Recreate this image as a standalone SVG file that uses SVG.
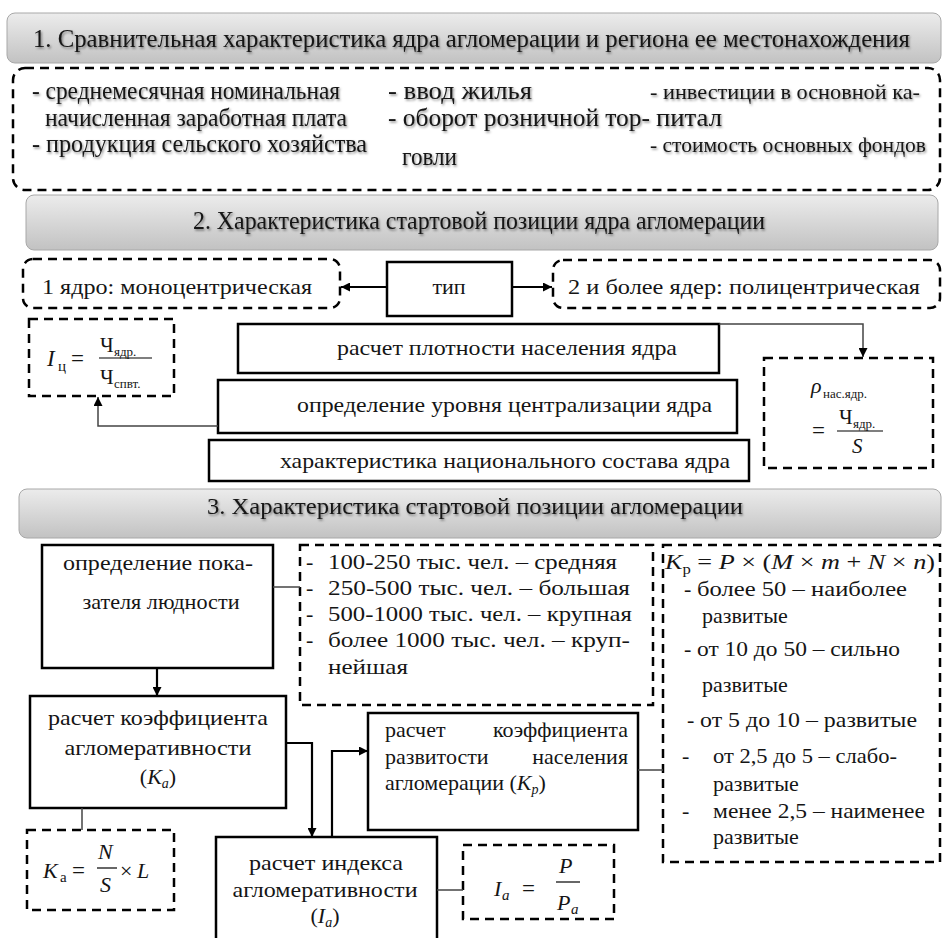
<svg xmlns="http://www.w3.org/2000/svg" width="945" height="938" viewBox="0 0 945 938" font-family="'Liberation Serif', 'DejaVu Serif', serif">
<defs>
<linearGradient id="bg" x1="0" y1="0" x2="0" y2="1">
<stop offset="0" stop-color="#ececec"/>
<stop offset="1" stop-color="#c2c2c2"/>
</linearGradient>
<filter id="sh" x="-5%" y="-40%" width="110%" height="180%">
<feDropShadow dx="1.2" dy="1.6" stdDeviation="1.1" flood-color="#000" flood-opacity="0.45"/>
</filter>
<marker id="ah" viewBox="0 0 10 10" refX="10" refY="5" markerWidth="9" markerHeight="9" markerUnits="userSpaceOnUse" orient="auto">
<path d="M0,0 L10,5 L0,10 z" fill="#000"/>
</marker>
</defs>
<style>
text{font-family:'Liberation Serif','DejaVu Serif',serif;fill:#151515;}
.t{font-size:22px;}
.h{font-size:25px;filter:url(#sh);}
.h2{font-size:22px;filter:url(#sh);}
.h3{font-size:23px;filter:url(#sh);}
.c{text-anchor:middle;}
.e{text-anchor:end;}
.ban{fill:url(#bg);stroke:#a8a8a8;stroke-width:1;}
.box{fill:#fff;stroke:#000;stroke-width:2.5;}
.dbox{fill:#fff;stroke:#000;stroke-width:2.5;stroke-dasharray:9 6;}
.i{font-style:italic;}
.sub{font-size:13px;}
.thin{fill:none;stroke:#444;stroke-width:1.5;}
.thick{fill:none;stroke:#000;stroke-width:2.2;}
</style>

<g id="banner1">
<rect class="ban" x="7" y="13" width="934" height="50" rx="8"/>
<text class="h" x="33" y="47" textLength="877" lengthAdjust="spacingAndGlyphs">1. Сравнительная характеристика ядра агломерации и региона ее местонахождения</text>
</g>

<g id="indicators">
<rect class="dbox" x="13" y="68" width="927" height="122" rx="12"/>
<text class="h" x="32" y="99" textLength="308" lengthAdjust="spacingAndGlyphs">- среднемесячная номинальная</text>
<text class="h" x="45" y="126" textLength="302" lengthAdjust="spacingAndGlyphs">начисленная заработная плата</text>
<text class="h" x="32" y="152" textLength="335" lengthAdjust="spacingAndGlyphs">- продукция сельского хозяйства</text>
<text class="h" x="388" y="99" textLength="144" lengthAdjust="spacingAndGlyphs">- ввод жилья</text>
<text class="h" x="388" y="126" textLength="262" lengthAdjust="spacingAndGlyphs">- оборот розничной тор-</text>
<text class="h" x="402" y="165" textLength="55" lengthAdjust="spacingAndGlyphs">говли</text>
<text class="h2" x="650" y="99" textLength="270" lengthAdjust="spacingAndGlyphs">- инвестиции в основной ка-</text>
<text class="h" x="656" y="126" textLength="66" lengthAdjust="spacingAndGlyphs">питал</text>
<text class="h2" x="650" y="152" textLength="276" lengthAdjust="spacingAndGlyphs">- стоимость основных фондов</text>
</g>

<g id="banner2">
<rect class="ban" x="26" y="195" width="912" height="55" rx="8"/>
<text class="h" x="193" y="229" textLength="572" lengthAdjust="spacingAndGlyphs">2. Характеристика стартовой позиции ядра агломерации</text>
</g>

<g id="mono">
<rect class="dbox" x="23" y="259" width="317" height="49" rx="10"/>
<text class="t" x="42" y="294" textLength="270" lengthAdjust="spacingAndGlyphs">1 ядро: моноцентрическая</text>
</g>

<g id="tip">
<rect class="box" x="387" y="262" width="125" height="54"/>
<text class="t c" x="449" y="294">тип</text>
</g>

<g id="poly">
<rect class="dbox" x="553" y="260" width="387" height="48" rx="10"/>
<text class="t" x="568" y="294" textLength="352" lengthAdjust="spacingAndGlyphs">2 и более ядер: полицентрическая</text>
</g>

<g id="formula-ic">
<rect class="dbox" x="29" y="319" width="145" height="77"/>
<text class="i" x="47" y="366" font-size="23">I</text>
<text x="58" y="371" font-size="15">ц</text>
<text x="71" y="366" font-size="23">=</text>
<line x1="99" y1="358" x2="152" y2="358" stroke="#000" stroke-width="1.2"/>
<text x="100" y="352" font-size="21">Ч</text>
<text class="sub" x="114" y="356">ядр.</text>
<text x="100" y="384" font-size="21">Ч</text>
<text class="sub" x="114" y="388">спвт.</text>
</g>

<g id="density">
<rect class="box" x="238" y="324" width="481" height="49"/>
<text class="t" x="337" y="355" textLength="340" lengthAdjust="spacingAndGlyphs">расчет плотности населения ядра</text>
</g>

<g id="centralization">
<rect class="box" x="218" y="380" width="519" height="53"/>
<text class="t" x="297" y="412" textLength="415" lengthAdjust="spacingAndGlyphs">определение уровня централизации ядра</text>
</g>

<g id="national">
<rect class="box" x="209" y="440" width="540" height="41"/>
<text class="t" x="280" y="468" textLength="450" lengthAdjust="spacingAndGlyphs">характеристика национального состава ядра</text>
</g>

<g id="formula-rho">
<rect class="dbox" x="764" y="358" width="169" height="110"/>
<text class="i" x="811" y="393" font-size="22">ρ</text>
<text class="sub" x="823" y="398">нас.ядр.</text>
<text x="812" y="438" font-size="23">=</text>
<line x1="837" y1="431" x2="883" y2="431" stroke="#000" stroke-width="1.2"/>
<text x="839" y="424" font-size="21">Ч</text>
<text class="sub" x="853" y="428">ядр.</text>
<text class="i" x="852" y="453" font-size="21">S</text>
</g>

<g id="banner3">
<rect class="ban" x="19" y="489" width="922" height="49" rx="8"/>
<text class="h3" x="207" y="514" textLength="536" lengthAdjust="spacingAndGlyphs">3. Характеристика стартовой позиции агломерации</text>
</g>

<g id="population">
<rect class="box" x="42" y="545" width="231" height="123"/>
<text class="t c" x="158" y="570" textLength="190" lengthAdjust="spacingAndGlyphs">определение пока-</text>
<text class="t c" x="161" y="609" textLength="157" lengthAdjust="spacingAndGlyphs">зателя людности</text>
</g>

<g id="size-classes">
<rect class="dbox" x="300" y="545" width="353" height="160"/>
<text class="t" x="306" y="569">-</text>
<text class="t" x="328" y="569" textLength="289" lengthAdjust="spacingAndGlyphs">100-250 тыс. чел. – средняя</text>
<text class="t" x="306" y="595">-</text>
<text class="t" x="328" y="595" textLength="302" lengthAdjust="spacingAndGlyphs">250-500 тыс. чел. – большая</text>
<text class="t" x="306" y="621">-</text>
<text class="t" x="328" y="621" textLength="304" lengthAdjust="spacingAndGlyphs">500-1000 тыс. чел. – крупная</text>
<text class="t" x="306" y="647">-</text>
<text class="t" x="328" y="647" textLength="302" lengthAdjust="spacingAndGlyphs">более 1000 тыс. чел. – круп-</text>
<text class="t" x="328" y="674" textLength="80" lengthAdjust="spacingAndGlyphs">нейшая</text>
</g>

<g id="kp-classes">
<rect class="dbox" x="663" y="545" width="277" height="317"/>
<text x="665" y="569" font-size="22" textLength="270" lengthAdjust="spacingAndGlyphs"><tspan class="i">K</tspan><tspan font-size="14" dy="5">р</tspan><tspan dy="-5"> = </tspan><tspan class="i">P</tspan> × (<tspan class="i">M</tspan> × <tspan class="i">m</tspan> + <tspan class="i">N</tspan> × <tspan class="i">n</tspan>)</text>
<text class="t" x="684" y="596">-</text>
<text class="t" x="697" y="596" textLength="210" lengthAdjust="spacingAndGlyphs">более 50 – наиболее</text>
<text class="t" x="702" y="623">развитые</text>
<text class="t" x="684" y="656">-</text>
<text class="t" x="697" y="656" textLength="203" lengthAdjust="spacingAndGlyphs">от 10 до 50 – сильно</text>
<text class="t" x="702" y="692">развитые</text>
<text class="t" x="687" y="727">-</text>
<text class="t" x="700" y="727" textLength="217" lengthAdjust="spacingAndGlyphs">от 5 до 10 – развитые</text>
<text class="t" x="682" y="763">-</text>
<text class="t" x="713" y="763" textLength="184" lengthAdjust="spacingAndGlyphs">от 2,5 до 5 – слабо-</text>
<text class="t" x="713" y="791">развитые</text>
<text class="t" x="682" y="818">-</text>
<text class="t" x="713" y="818" textLength="212" lengthAdjust="spacingAndGlyphs">менее 2,5 – наименее</text>
<text class="t" x="713" y="844">развитые</text>
</g>

<g id="ka-calc">
<rect class="box" x="30" y="696" width="256" height="112"/>
<text class="t c" x="158" y="725" textLength="220" lengthAdjust="spacingAndGlyphs">расчет коэффициента</text>
<text class="t c" x="158" y="755" textLength="187" lengthAdjust="spacingAndGlyphs">агломеративности</text>
<text class="t c" x="158" y="784">(<tspan class="i">K</tspan><tspan class="i" font-size="14" dy="4">a</tspan><tspan dy="-4">)</tspan></text>
</g>

<g id="formula-ka">
<rect class="dbox" x="27" y="830" width="147" height="80"/>
<text class="i" x="43" y="878" font-size="22">K</text>
<text x="60" y="882" font-size="15">а</text>
<text x="72" y="878" font-size="23">=</text>
<line x1="97" y1="868" x2="117" y2="868" stroke="#000" stroke-width="1.2"/>
<text class="i" x="98" y="859" font-size="22">N</text>
<text class="i" x="100" y="892" font-size="22">S</text>
<text x="120" y="878" font-size="22">×</text>
<text class="i" x="137" y="878" font-size="22">L</text>
</g>

<g id="ia-calc">
<rect class="box" x="216" y="837" width="221" height="110"/>
<text class="t c" x="326" y="870" textLength="154" lengthAdjust="spacingAndGlyphs">расчет индекса</text>
<text class="t c" x="325" y="897" textLength="185" lengthAdjust="spacingAndGlyphs">агломеративности</text>
<text class="t c" x="325" y="923">(<tspan class="i">I</tspan><tspan class="i" font-size="14" dy="4">a</tspan><tspan dy="-4">)</tspan></text>
</g>

<g id="kp-calc">
<rect class="box" x="368" y="713" width="270" height="117"/>
<text class="t" x="385" y="737">расчет</text>
<text class="t e" x="628" y="737">коэффициента</text>
<text class="t" x="385" y="764">развитости</text>
<text class="t e" x="628" y="764">населения</text>
<text class="t" x="385" y="790">агломерации (<tspan class="i">K</tspan><tspan class="i" font-size="14" dy="4">p</tspan><tspan dy="-4">)</tspan></text>
</g>

<g id="formula-ia">
<rect class="dbox" x="463" y="845" width="151" height="74"/>
<text class="i" x="494" y="896" font-size="22">I</text>
<text class="i" x="502" y="900" font-size="15">a</text>
<text x="522" y="896" font-size="23">=</text>
<line x1="556" y1="882" x2="580" y2="882" stroke="#000" stroke-width="1.2"/>
<text class="i" x="559" y="873" font-size="22">P</text>
<text class="i" x="557" y="910" font-size="22">P</text>
<text class="i" x="571" y="914" font-size="15">a</text>
</g>

<g id="connectors">
<path class="thick" d="M387,287 L341,287" marker-end="url(#ah)"/>
<path class="thick" d="M512,287 L552,287" marker-end="url(#ah)"/>
<path class="thin" d="M218,426 L98,426 L98,397" marker-end="url(#ah)"/>
<path class="thin" d="M719,324 L863,324 L863,357" marker-end="url(#ah)"/>
<path class="thin" d="M273,587 L300,587"/>
<path class="thick" d="M157,668 L157,696" marker-end="url(#ah)"/>
<path class="thin" d="M82,808 L82,830"/>
<path class="thick" d="M286,743 L312,743 L312,837" marker-end="url(#ah)"/>
<path class="thick" d="M332,837 L332,751 L368,751" marker-end="url(#ah)"/>
<path class="thin" d="M638,770 L663,770"/>
<path class="thin" d="M437,890 L463,890"/>
</g>
</svg>
